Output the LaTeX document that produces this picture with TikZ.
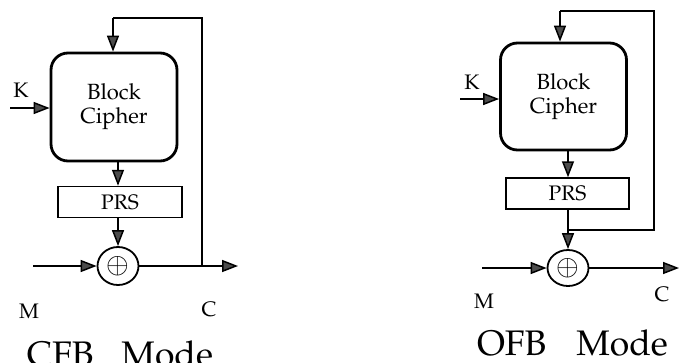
\documentclass[tikz,border=0pt]{standalone}
\usepackage[T1]{fontenc}
\usepackage{mathpazo}
\usetikzlibrary{arrows.meta,shapes.geometric}
\begin{document}
\begin{tikzpicture}[x=1pt,y=-1pt,
  line width=1.5pt,
  arr/.style={-{Triangle[length=16pt,width=12pt,fill=black!70]}},
  cipherbox/.style={draw,line width=2.8pt,rounded corners=17pt,minimum width=126pt,inner sep=0pt,align=center,font=\fontsize{22}{24}\selectfont},
  prsbox/.style={draw,line width=1.5pt,minimum width=124pt,minimum height=31pt,inner sep=0pt,font=\fontsize{21}{22}\selectfont},
  xorbox/.style={draw,ellipse,line width=1.8pt,minimum width=41pt,minimum height=38pt,inner sep=0pt,font=\fontsize{28}{30}\selectfont},
  lbl/.style={font=\fontsize{21}{22}\selectfont,inner sep=0pt},
  ttl/.style={font=\fontsize{35.5}{40}\selectfont,inner sep=0pt,anchor=base}
]
\useasboundingbox (0,0) rectangle (679,362);
% ---------- CFB ----------
\node[cipherbox,minimum height=108pt] (bc1) at (114,107) {Block\\Cipher};
\node[prsbox] (prs1) at (120,202) {PRS};
\node[xorbox] (x1) at (118,266) {$\oplus$};
\coordinate (t1) at (113,18);
\coordinate (r1) at (202,18);
\coordinate (k1) at (10,108);
\coordinate (m1) at (33,266);
\coordinate (c1) at (238,266);
\coordinate (j1) at (202,266);
\node[lbl] (kl1) at (21,90) {K};
\node[lbl] (ml1) at (29,311) {M};
\node[lbl] (cl1) at (209,309) {C};
\node[ttl] (tt1) at (120,366) {CFB\hspace{28pt}Mode};
\draw[arr] (t1) -- (bc1.north -| t1);
\draw (t1) -- (r1) -- (j1);
\draw[arr] (k1) -- (bc1.west |- k1);
\draw[arr] (bc1.south -| x1) -- (prs1.north -| x1);
\draw[arr] (prs1.south -| x1) -- (x1.north);
\draw[arr] (m1) -- (x1.west);
\draw[arr] (x1.east) -- (c1);
% ---------- OFB ----------
\node[cipherbox,minimum height=107pt] (bc2) at (563.5,96.5) {Block\\Cipher};
\node[prsbox,minimum width=123pt] (prs2) at (567.5,193.5) {PRS};
\node[xorbox,minimum height=36pt] (x2) at (568,268) {$\oplus$};
\coordinate (t2) at (560,11);
\coordinate (r2) at (654,11);
\coordinate (rb2) at (654,230);
\coordinate (j2) at (568,230);
\coordinate (k2) at (460,99);
\coordinate (m2) at (482,268);
\coordinate (c2) at (679,268);
\node[lbl] (kl2) at (472,82) {K};
\node[lbl] (ml2) at (484,301) {M};
\node[lbl] (cl2) at (662,294) {C};
\node[ttl] (tt2) at (572.5,355) {OFB\hspace{30pt}Mode};
\draw[arr] (t2) -- (bc2.north -| t2);
\draw (t2) -- (r2) -- (rb2) -- (j2);
\draw[arr] (k2) -- (bc2.west |- k2);
\draw[arr] (bc2.south -| x2) -- (prs2.north -| x2);
\draw (prs2.south -| x2) -- (j2);
\draw[arr] (j2) -- (x2.north);
\draw[arr] (m2) -- (x2.west);
\draw[arr] (x2.east) -- (c2);
\end{tikzpicture}
\end{document}
